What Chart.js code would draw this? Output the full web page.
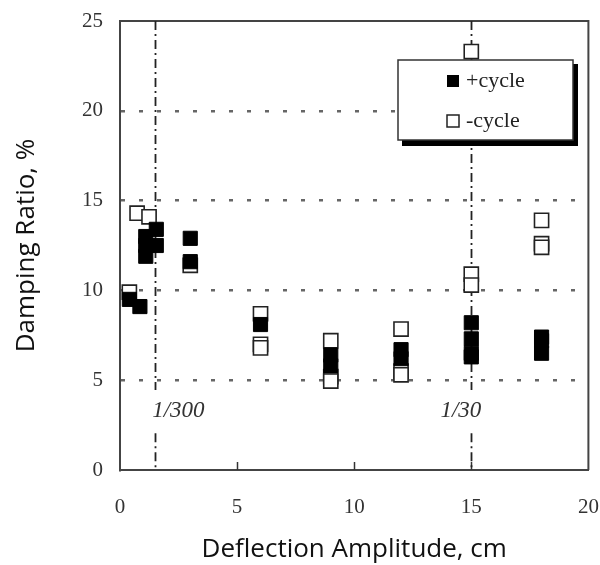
<!DOCTYPE html>
<html>
<head>
<meta charset="utf-8">
<script src="https://cdn.jsdelivr.net/npm/chart.js@4.4.1/dist/chart.umd.min.js"></script>
<style>
  html, body { margin: 0; padding: 0; background: #fff; }
  #wrap { width: 600px; height: 565px; }
</style>
</head>
<body>
<div id="wrap"><canvas id="c" width="600" height="565"></canvas></div>
<script>
// ---- data ----
const seriesNames = ['+cycle', '-cycle'];
const posX = [0.4, 0.85, 1.1, 1.1, 1.1, 1.55, 1.55, 3, 3, 6, 9, 9, 12, 12, 15, 15, 15, 15, 18, 18, 18];
const posY = [9.5, 9.1, 11.9, 12.5, 13.0, 12.5, 13.4, 12.9, 11.6, 8.1, 6.4, 5.8, 6.7, 6.2, 8.2, 7.3, 6.5, 6.3, 7.4, 7.2, 6.5];
const negX = [0.4, 0.73, 1.24, 3, 6, 6, 6, 9, 9, 9, 12, 12, 12, 15, 15, 15, 18, 18, 18];
const negY = [9.9, 14.3, 14.1, 11.4, 8.7, 7.0, 6.8, 7.2, 5.2, 4.95, 7.85, 5.5, 5.3, 23.3, 10.9, 10.3, 13.9, 12.6, 12.4];
const xTicks = [0, 5, 10, 15, 20];
const yTicks = [0, 5, 10, 15, 20, 25];
const refLinesX = [1.5, 15];
const refLabels = ['1/300', '1/30'];
const xTitle = 'Deflection Amplitude, cm';
const yTitle = 'Damping Ratio, %';

const toPts = (xs, ys) => xs.map((x, i) => ({x: x, y: ys[i]}));

const decor = {
  id: 'decor',
  beforeDatasetsDraw(chart) {
    const {ctx, chartArea: a, scales: {x, y}} = chart;
    ctx.save();
    // frame top & right
    ctx.strokeStyle = '#444';
    ctx.lineWidth = 2;
    ctx.beginPath();
    ctx.moveTo(a.left, a.top); ctx.lineTo(a.right, a.top); ctx.lineTo(a.right, a.bottom);
    ctx.stroke();
    // inward x ticks
    ctx.lineWidth = 1.5;
    ctx.strokeStyle = '#333';
    xTicks.forEach(v => {
      if (v === 0 || v === 20) return;
      const px = Math.round(x.getPixelForValue(v)) + 0.5;
      ctx.beginPath(); ctx.moveTo(px, a.bottom); ctx.lineTo(px, a.bottom - 8); ctx.stroke();
    });
    // dash-dot reference lines with a gap for the label
    ctx.setLineDash([9, 4, 2, 4]);
    ctx.lineWidth = 1.8;
    ctx.strokeStyle = '#222';
    const gapTop = y.getPixelForValue(4.45), gapBot = y.getPixelForValue(2.05);
    refLinesX.forEach(v => {
      const px = Math.round(x.getPixelForValue(v)) + 0.5;
      ctx.beginPath(); ctx.moveTo(px, a.top); ctx.lineTo(px, gapTop); ctx.stroke();
      ctx.beginPath(); ctx.moveTo(px, gapBot); ctx.lineTo(px, a.bottom); ctx.stroke();
    });
    ctx.setLineDash([]);
    // labels
    ctx.fillStyle = '#333';
    ctx.font = 'italic 23px "Liberation Serif"';
    ctx.textBaseline = 'middle';
    const ly = y.getPixelForValue(3.3);
    ctx.textAlign = 'left';
    ctx.fillText(refLabels[0], x.getPixelForValue(refLinesX[0]) - 3, ly);
    ctx.textAlign = 'right';
    ctx.fillText(refLabels[1], x.getPixelForValue(refLinesX[1]) + 10, ly);
    ctx.restore();
  },
  afterDatasetsDraw(chart) {
    const {ctx} = chart;
    ctx.save();
    const bx = 398, by = 60, bw = 175, bh = 80;
    ctx.fillStyle = '#000';
    ctx.fillRect(bx + 4, by + 4, bw + 1, bh + 2);
    ctx.fillStyle = '#fff';
    ctx.fillRect(bx, by, bw, bh);
    ctx.strokeStyle = '#333';
    ctx.lineWidth = 1.5;
    ctx.strokeRect(bx, by, bw, bh);
    // entries
    ctx.font = '22px "Liberation Serif"';
    ctx.textBaseline = 'middle';
    ctx.textAlign = 'left';
    const rows = [by + 21, by + 61];
    ctx.fillStyle = '#000';
    ctx.fillRect(447, rows[0] - 6, 12, 12);
    ctx.fillStyle = '#fff';
    ctx.fillRect(447, rows[1] - 6, 12, 12);
    ctx.strokeStyle = '#222';
    ctx.lineWidth = 1.5;
    ctx.strokeRect(447, rows[1] - 6, 12, 12);
    ctx.fillStyle = '#222';
    ctx.fillText(seriesNames[0], 466, rows[0]);
    ctx.fillText(seriesNames[1], 466, rows[1]);
    ctx.restore();
  }
};

new Chart(document.getElementById('c'), {
  type: 'scatter',
  data: {
    datasets: [
      {
        label: seriesNames[0],
        data: toPts(posX, posY),
        pointStyle: 'rect',
        pointRadius: 10,
        pointHoverRadius: 10,
        backgroundColor: '#000',
        borderColor: '#000',
        borderWidth: 1
      },
      {
        label: seriesNames[1],
        data: toPts(negX, negY),
        pointStyle: 'rect',
        pointRadius: 10,
        pointHoverRadius: 10,
        backgroundColor: '#fff',
        borderColor: '#222',
        borderWidth: 1.6
      }
    ]
  },
  options: {
    responsive: false,
    animation: false,
    events: [],
    layout: { padding: { left: 0, top: 21, right: 11, bottom: 0 } },
    plugins: { legend: { display: false }, tooltip: { enabled: false } },
    scales: {
      x: {
        type: 'linear',
        min: 0, max: 20,
        afterBuildTicks: s => { s.ticks = xTicks.map(v => ({value: v})); },
        afterFit: s => { s.height = 95; s.paddingLeft = 0; s.paddingRight = 0; },
        grid: { display: false, drawTicks: false },
        border: { display: true, color: '#444', width: 2 },
        ticks: {
          padding: 25,
          color: '#333',
          font: { family: '"Liberation Serif"', size: 21 }
        },
        title: {
          display: true,
          text: xTitle,
          color: '#111',
          font: { family: '"Open Sans"', size: 26 },
          padding: { top: 0, bottom: 0 }
        }
      },
      y: {
        type: 'linear',
        min: 0, max: 25,
        afterBuildTicks: s => { s.ticks = yTicks.map(v => ({value: v})); },
        afterFit: s => { s.width = 120; s.paddingTop = 0; s.paddingBottom = 0; },
        grid: {
          drawTicks: false,
          lineWidth: 2.5,
          color: c => (c.tick && (c.tick.value === 0 || c.tick.value === 25)) ? 'rgba(0,0,0,0)' : '#666'
        },
        border: { display: true, color: '#444', width: 2, dash: [4, 14] },
        ticks: {
          padding: 17,
          color: '#333',
          font: { family: '"Liberation Serif"', size: 21 }
        },
        title: {
          display: true,
          text: yTitle,
          color: '#111',
          font: { family: '"Open Sans"', size: 26 },
          padding: { top: 11, bottom: 0 }
        }
      }
    }
  },
  plugins: [decor]
});
</script>
</body>
</html>
